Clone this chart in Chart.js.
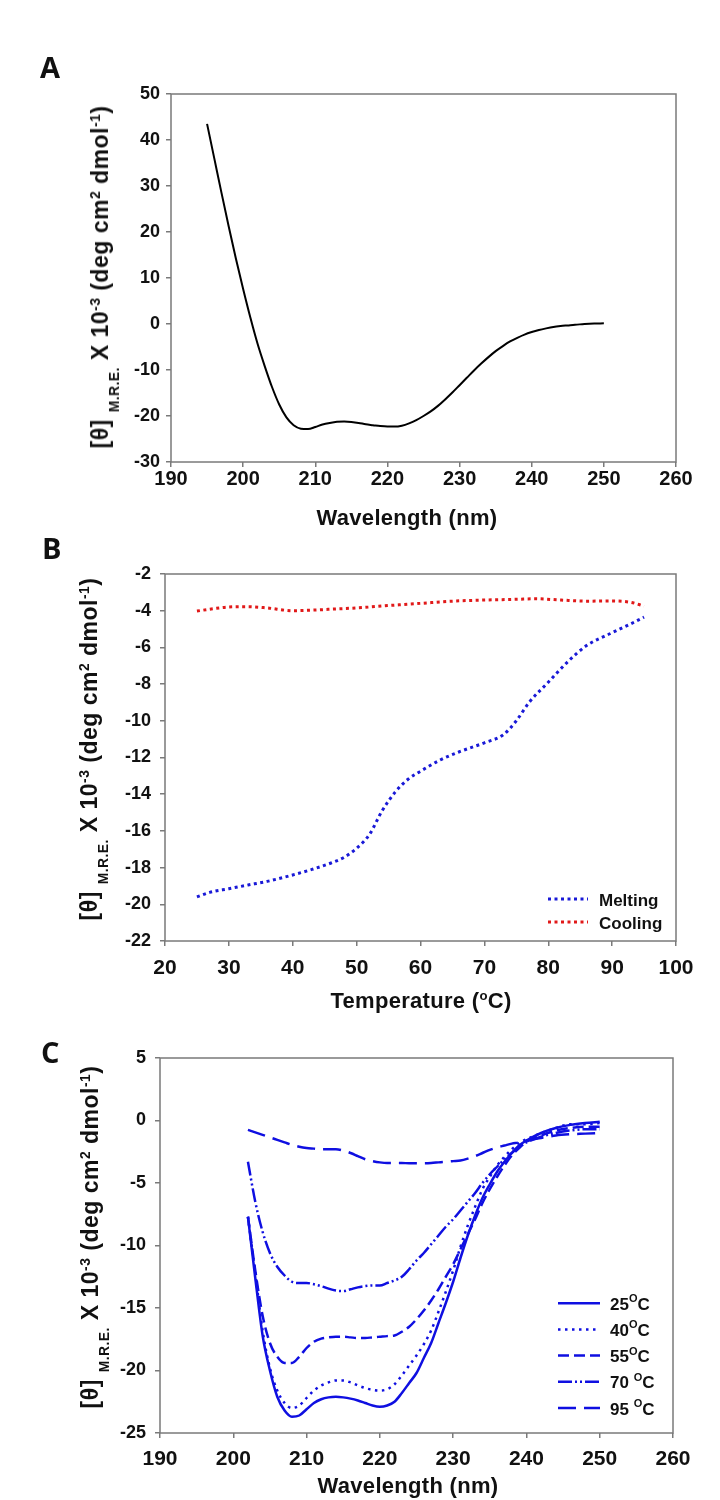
<!DOCTYPE html>
<html lang="en">
<head>
<meta charset="utf-8">
<title>CD spectra and thermal melt</title>
<script src="https://cdn.jsdelivr.net/npm/chart.js@4.4.1/dist/chart.umd.min.js"></script>
<style>
    body {
        margin: 0;
        background: #fff;
        font-family: "Liberation Sans", Arial, sans-serif;
        color: #111;
    }

    #page {
        position: relative;
        width: 720px;
        height: 1500px;
        overflow: hidden;
    }

    canvas {
        position: absolute;
        left: 0;
    }

    .letter {
        position: absolute;
        font-family: "Open Sans", sans-serif;
        font-weight: 700;
        font-size: 29px;
        line-height: 1;
    }

    .xt, .yt {
        position: absolute;
        font-weight: 700;
        line-height: 1;
        white-space: nowrap;
    }

    .xt { font-size: 22px; letter-spacing: 0.3px; transform: translateX(-50%); }
    .yt { font-size: 23px; letter-spacing: 0.5px; transform: translate(-50%, -50%) rotate(-90deg); }

    sup, sub { font-size: 0.6em; line-height: 0; }
    sup { vertical-align: 0.6em; }
    sub { vertical-align: -0.8em; }
</style>
</head>
<body>
<div id="page">
    <canvas id="chartA" width="720" height="500" style="top:0px"></canvas>
    <canvas id="chartB" width="720" height="490" style="top:500px"></canvas>
    <canvas id="chartC" width="720" height="510" style="top:990px"></canvas>

    <div class="letter" style="left:40px; top:52px">A</div>
    <div class="letter" style="left:42px; top:533px">B</div>
    <div class="letter" style="left:41px; top:1037px">C</div>

    <div class="xt" style="left:407px; top:507px">Wavelength (nm)</div>
    <div class="xt" style="left:421px; top:990px">Temperature (<sup>o</sup>C)</div>
    <div class="xt" style="left:408px; top:1475px">Wavelength (nm)</div>

    <div class="yt" style="left:102px; top:277px">[θ] <sub>M.R.E.</sub> X 10<sup>-3</sup> (deg cm<sup>2</sup> dmol<sup>-1</sup>)</div>
    <div class="yt" style="left:91px; top:749px">[θ] <sub>M.R.E.</sub> X 10<sup>-3</sup> (deg cm<sup>2</sup> dmol<sup>-1</sup>)</div>
    <div class="yt" style="left:92px; top:1237px">[θ] <sub>M.R.E.</sub> X 10<sup>-3</sup> (deg cm<sup>2</sup> dmol<sup>-1</sup>)</div>
</div>

<script>
    // ---- panel A: far-UV CD spectrum ----
    var wavelengthA = [195, 196, 197, 198, 199, 200, 201, 202, 203, 204, 205, 206, 207, 208, 209, 210,
        211, 212, 213, 214, 215, 216, 217, 218, 219, 220, 221, 222, 223, 224, 225, 226, 227, 228, 229, 230,
        231, 232, 233, 234, 235, 236, 237, 238, 239, 240, 241, 242, 243, 244, 245, 246, 247, 248, 249, 250];
    var spectrumA = [43.5, 36, 28.5, 21.2, 14.2, 7.6, 1.4, -4.3, -9.2, -13.7, -17.5, -20.3, -22.0, -22.75, -22.85, -22.4,
        -21.85, -21.5, -21.25, -21.2, -21.3, -21.5, -21.8, -22.0, -22.2, -22.3, -22.3, -22.1, -21.6, -20.9, -20.0, -19.0, -17.8, -16.4, -14.9, -13.3,
        -11.7, -10.1, -8.6, -7.2, -5.9, -4.8, -3.8, -3.0, -2.3, -1.75, -1.3, -0.95, -0.65, -0.45, -0.3, -0.15, -0.05, 0.05, 0.1, 0.15];

    // ---- panel B: thermal melt at fixed wavelength ----
    var tempMelting = [25, 27, 30, 33, 36, 40, 43, 46, 48, 50, 52, 54, 56, 58, 60, 63, 66, 70, 73, 75, 77, 80, 83, 86, 90, 93, 95];
    var melting = [-19.6, -19.35, -19.15, -18.95, -18.75, -18.4, -18.1, -17.75, -17.45, -16.95, -16.2, -14.9, -13.9, -13.2,
        -12.75, -12.15, -11.7, -11.2, -10.75, -10.0, -9.0, -7.9, -6.8, -5.9, -5.2, -4.7, -4.35];
    var tempCooling = [25, 28, 30, 33, 36, 40, 43, 47, 50, 55, 60, 65, 70, 75, 78, 82, 86, 90, 93, 95];
    var cooling = [-4.02, -3.87, -3.8, -3.78, -3.85, -4.0, -3.97, -3.9, -3.85, -3.72, -3.6, -3.48, -3.42, -3.38, -3.35,
        -3.42, -3.48, -3.47, -3.55, -3.75];

    // ---- panel C: spectra at several temperatures ----
    var wavelengthC = [202, 203, 204, 205, 206, 207, 208, 209, 210, 211, 212, 213, 214, 215, 216, 217, 218, 219, 220, 221,
        222, 223, 224, 225, 226, 227, 228, 229, 230, 231, 232, 233, 234, 235, 236, 237, 238, 239, 240, 242, 244, 246, 248, 250];
    var t25 = [-7.7, -12.6, -17.2, -20.0, -22.1, -23.2, -23.7, -23.6, -23.1, -22.6, -22.3, -22.15, -22.1, -22.15, -22.25, -22.4, -22.6, -22.8, -22.9, -22.8,
        -22.5, -21.8, -21.0, -20.2, -19.0, -17.8, -16.2, -14.6, -12.9, -11.0, -9.2, -7.6, -6.2, -5.1, -4.1, -3.3, -2.6, -2.0, -1.6, -1.0, -0.6, -0.35, -0.2, -0.1];
    var t40 = [-7.7, -12.2, -16.8, -19.8, -21.6, -22.6, -23.0, -22.8, -22.2, -21.6, -21.2, -20.95, -20.8, -20.8, -20.95, -21.2, -21.4, -21.55, -21.6, -21.5,
        -21.1, -20.4, -19.6, -18.8, -17.9, -16.8, -15.3, -13.7, -12.0, -10.1, -8.4, -6.9, -5.5, -4.5, -3.6, -2.9, -2.3, -1.8, -1.5, -1.0, -0.6, -0.3, -0.3, -0.2];
    var t55 = [-7.7, -12.0, -15.6, -17.8, -18.9, -19.4, -19.4, -18.9, -18.2, -17.7, -17.45, -17.35, -17.3, -17.3, -17.35, -17.4, -17.4, -17.35, -17.3, -17.25,
        -17.2, -16.9, -16.5, -15.9, -15.2, -14.4, -13.5, -12.5, -11.5, -10.3, -9.1, -7.9, -6.6, -5.5, -4.5, -3.6, -2.8, -2.2, -1.7, -1.2, -0.8, -0.6, -0.5, -0.5];
    var t70 = [-3.3, -6.5, -8.9, -10.6, -11.7, -12.4, -12.9, -13.0, -13.0, -13.1, -13.25, -13.45, -13.6, -13.65, -13.5, -13.35, -13.25, -13.2, -13.2, -13.0,
        -12.8, -12.5, -11.9, -11.2, -10.6, -9.9, -9.2, -8.5, -7.9, -7.2, -6.5, -5.8, -5.0, -4.3, -3.7, -3.1, -2.6, -2.1, -1.75, -1.3, -1.0, -0.8, -0.7, -0.7];
    var t95 = [-0.75, -0.95, -1.15, -1.35, -1.55, -1.75, -1.95, -2.1, -2.2, -2.25, -2.3, -2.3, -2.3, -2.4, -2.6, -2.85, -3.1, -3.25, -3.35, -3.4,
        -3.4, -3.4, -3.42, -3.42, -3.42, -3.4, -3.35, -3.3, -3.25, -3.2, -3.05, -2.85, -2.6, -2.35, -2.15, -2.0, -1.85, -1.75, -1.6, -1.4, -1.2, -1.1, -1.05, -1.0];

    var FONT = '"Liberation Sans", Arial, sans-serif';
    var AXIS_GREY = '#7a7a7a';
    var BLUE = 'rgb(15, 15, 225)';

    function points(xs, ys) {
        return xs.map(function (x, i) { return {x: x, y: ys[i]}; });
    }

    // grey box round the plot area (top and right sides included)
    var framePlugin = {
        id: 'frame',
        beforeDatasetsDraw: function (chart) {
            var a = chart.chartArea, ctx = chart.ctx;
            ctx.save();
            ctx.strokeStyle = AXIS_GREY;
            ctx.lineWidth = 1.5;
            ctx.strokeRect(a.left, a.top, a.right - a.left, a.bottom - a.top);
            ctx.restore();
        }
    };

    // legend drawn inside the plot, bottom right, using each dataset's own dash
    var insetLegend = {
        id: 'insetLegend',
        afterDraw: function (chart, args, opts) {
            var ctx = chart.ctx, a = chart.chartArea;
            var sets = chart.data.datasets, n = sets.length;
            ctx.save();
            sets.forEach(function (ds, i) {
                var y = a.bottom - opts.bottom - (n - 1 - i) * opts.rowGap;
                var x0 = a.right - opts.right;
                ctx.strokeStyle = ds.borderColor;
                ctx.lineWidth = ds.borderWidth;
                ctx.setLineDash(ds.borderDash || []);
                ctx.beginPath();
                ctx.moveTo(x0, y);
                ctx.lineTo(x0 + opts.sample, y);
                ctx.stroke();
                ctx.setLineDash([]);

                var tx = x0 + opts.sample + opts.gap;
                var parts = ds.label.split('°');
                var main = 'bold ' + opts.size + 'px ' + FONT;
                ctx.fillStyle = '#111';
                ctx.textBaseline = 'middle';
                ctx.font = main;
                ctx.fillText(parts[0], tx, y + 2);
                if (parts.length > 1) {
                    tx += ctx.measureText(parts[0]).width;
                    ctx.font = 'bold ' + Math.round(opts.size * 0.65) + 'px ' + FONT;
                    ctx.fillText('O', tx, y - 4);
                    tx += ctx.measureText('O').width;
                    ctx.font = main;
                    ctx.fillText(parts[1], tx, y + 2);
                }
            });
            ctx.restore();
        }
    };

    function axis(min, max, step, size, pad, fit) {
        return {
            type: 'linear',
            min: min,
            max: max,
            ticks: {
                stepSize: step,
                padding: pad,
                color: '#111',
                autoSkip: false,
                maxRotation: 0,
                font: {family: FONT, size: size, weight: 'bold'}
            },
            grid: {drawOnChartArea: false, color: AXIS_GREY, lineWidth: 1.5, tickLength: 5},
            border: {display: false},
            afterFit: fit
        };
    }

    function makeChart(id, datasets, scales, padding, legendOpts) {
        var ctx = document.getElementById(id).getContext('2d');
        return new Chart(ctx, {
            type: 'line',
            data: {datasets: datasets},
            options: {
                responsive: false,
                animation: false,
                devicePixelRatio: 1,
                layout: {padding: padding},
                elements: {point: {radius: 0}},
                scales: scales,
                plugins: {
                    legend: {display: false},
                    tooltip: {enabled: false},
                    insetLegend: legendOpts || false
                }
            },
            plugins: [framePlugin, insetLegend]
        });
    }

    function yFit(s) { s.width = 60; }
    function xFit(h) { return function (s) { s.height = h; }; }

    // panel A
    makeChart('chartA', [{
        label: 'CD spectrum',
        data: points(wavelengthA, spectrumA),
        borderColor: '#000',
        borderWidth: 2,
        cubicInterpolationMode: 'monotone'
    }], {
        x: axis(190, 260, 10, 20, 0, xFit(30)),
        y: axis(-30, 50, 10, 18, 6, yFit)
    }, {left: 111, right: 44, top: 94, bottom: 8});

    // panel B
    makeChart('chartB', [{
        label: 'Melting',
        data: points(tempMelting, melting),
        borderColor: 'rgb(25, 25, 215)',
        borderWidth: 3,
        borderDash: [3, 3.5],
        cubicInterpolationMode: 'monotone'
    }, {
        label: 'Cooling',
        data: points(tempCooling, cooling),
        borderColor: 'rgb(225, 25, 25)',
        borderWidth: 3,
        borderDash: [3, 3.5],
        cubicInterpolationMode: 'monotone'
    }], {
        x: axis(20, 100, 10, 21, 10, xFit(40)),
        y: axis(-22, -2, 2, 18, 9, yFit)
    }, {left: 105, right: 44, top: 74, bottom: 9},
        {right: 128, bottom: 19, rowGap: 23, sample: 40, gap: 11, size: 17});

    // panel C
    var temps = ['25°C', '40°C', '55°C', '70 °C', '95 °C'];
    var curvesC = [t25, t40, t55, t70, t95];
    var dashesC = [[], [2.5, 4.5], [11, 5], [14, 3, 2, 3, 2, 3], [18, 8]];
    makeChart('chartC', curvesC.map(function (vals, i) {
        return {
            label: temps[i],
            data: points(wavelengthC, vals),
            borderColor: BLUE,
            borderWidth: 2.5,
            borderDash: dashesC[i],
            cubicInterpolationMode: 'monotone'
        };
    }), {
        x: axis(190, 260, 10, 21, 9, xFit(40)),
        y: axis(-25, 5, 5, 18, 9, yFit)
    }, {left: 100, right: 47, top: 68, bottom: 27},
        {right: 115, bottom: 25, rowGap: 26.2, sample: 42, gap: 10, size: 17});
</script>
</body>
</html>
